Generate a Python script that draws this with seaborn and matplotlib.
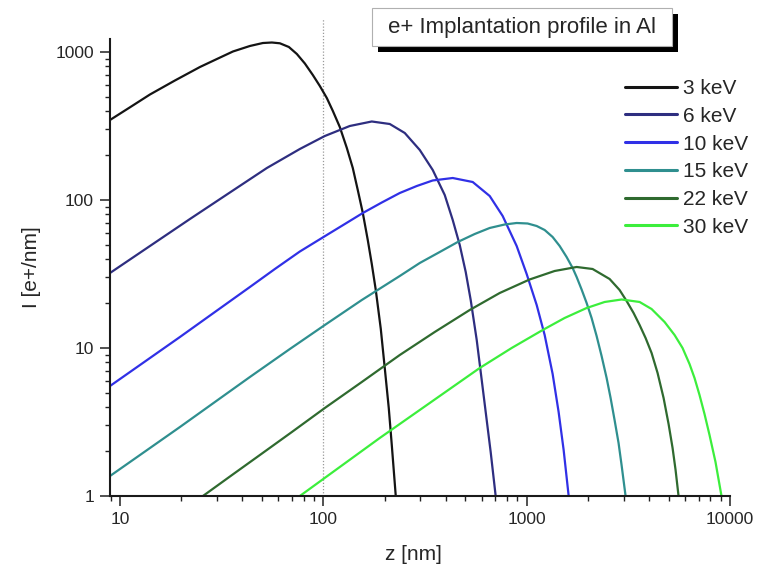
import matplotlib
matplotlib.use("Agg")
import matplotlib.pyplot as plt
import matplotlib.ticker as mticker
from matplotlib.patches import Rectangle
import seaborn as sns
import pandas as pd

# ---- data (depth z in nm, intensity I in e+/nm) ----
energies = ["3 keV", "6 keV", "10 keV", "15 keV", "22 keV", "30 keV"]
colors = ["#141414", "#2e2e80", "#3030e6", "#2f8f8f", "#2f6a2f", "#3cee3c"]

z_3 = [8.93, 11.20, 14.04, 18.63, 24.73, 29.97, 35.93, 43.54, 50.43, 55.84,
       61.13, 67.68, 74.10, 81.12, 88.78, 96.12, 104.0, 111.4, 120.5, 130.5,
       139.6, 147.7, 156.4, 165.4, 173.1, 181.1, 191.7, 200.5, 209.8, 217.1, 227.1]
i_3 = [347.2, 423.1, 516.2, 641.9, 791.8, 896.8, 1007.8, 1098, 1150, 1159,
       1145, 1081, 969.4, 836.2, 699.1, 589.2, 488.9, 399.4, 311.3, 224.6,
       164.5, 116.8, 81.68, 53.67, 36.95, 24.66, 13.44, 7.325, 3.932, 2.211, 1.0]

z_6 = [8.93, 14.04, 22.08, 34.72, 52.77, 76.65, 101.7, 134.9, 173.1, 212.2,
       251.5, 298.1, 345.2, 395.4, 432.9, 468.7, 501.5, 530.6, 568.0, 601.1,
       635.9, 665.3, 704.0]
i_6 = [32.12, 48.89, 74.40, 112.4, 164.5, 221.1, 270.6, 316.2, 339.2, 326.2,
       283.6, 217.7, 159.5, 108.1, 73.25, 49.66, 32.62, 21.10, 11.33, 6.078,
       3.263, 1.983, 1.0]

z_10 = [8.93, 13.27, 19.72, 29.30, 43.54, 57.77, 76.65, 104.0, 127.6, 156.4,
        193.9, 237.7, 288.1, 345.2, 432.9, 542.8, 658.0, 762.1, 892.9, 1000,
        1120, 1226, 1342, 1436, 1520, 1609]
i_10 = [5.536, 8.105, 11.87, 17.51, 25.83, 34.18, 44.87, 58.01, 68.84, 81.68,
        96.19, 111.5, 124.3, 135.5, 140.8, 132.3, 106.4, 77.96, 48.89, 31.62,
        19.53, 12.24, 6.674, 3.695, 2.046, 1.0]

z_15 = [8.93, 13.27, 19.72, 29.30, 43.54, 68.45, 101.7, 154.6, 237.7, 298.1,
        373.7, 458.1, 555.3, 658.0, 779.6, 892.9, 1011, 1120, 1226, 1342,
        1453, 1572, 1683, 1761, 1863, 1972, 2086, 2208, 2336, 2473, 2587,
        2706, 2831, 2929, 3065]
i_15 = [1.365, 1.998, 2.926, 4.317, 6.369, 9.845, 14.30, 21.10, 30.66, 37.53,
        44.53, 52.02, 58.92, 64.70, 68.31, 69.92, 69.38, 66.73, 62.70, 56.23,
        48.89, 41.19, 34.72, 30.18, 24.85, 20.14, 15.95, 12.05, 8.831, 6.271,
        4.594, 3.263, 2.281, 1.620, 1.0]

z_22 = [25.58, 34.72, 48.75, 70.02, 101.7, 154.6, 237.7, 353.2, 524.8, 737.0,
        1034, 1373, 1761, 2110, 2558, 2864, 3101, 3356, 3593, 3845, 4115,
        4404, 4714, 4988, 5219, 5399, 5584]
i_22 = [1.0, 1.354, 1.892, 2.706, 3.932, 5.892, 8.968, 12.83, 18.06, 23.53,
        29.03, 33.14, 35.27, 34.18, 29.26, 24.66, 20.78, 17.24, 14.30, 11.68,
        9.252, 6.778, 4.594, 3.066, 2.110, 1.499, 1.0]

z_30 = [76.65, 120.5, 189.5, 333.7, 587.6, 843.8, 1199, 1537, 1972, 2418,
        2930, 3593, 4115, 4767, 5338, 5843, 6323, 6692, 7081, 7493, 7930,
        8486, 9082]
i_30 = [1.0, 1.570, 2.466, 4.250, 7.325, 10.0, 13.23, 15.95, 18.63, 20.46,
        21.27, 20.46, 18.34, 14.99, 12.24, 10.0, 7.796, 6.271, 4.813, 3.582,
        2.583, 1.697, 1.0]

x_ticks = [10, 100, 1000, 10000]
x_tick_labels = ["10", "100", "1000", "10000"]
y_ticks = [1, 10, 100, 1000]
y_tick_labels = ["1", "10", "100", "1000"]
title_text = "e+ Implantation profile in Al"
x_label = "z [nm]"
y_label = "I [e+/nm]"

frames = []
for lab, zz, ii in zip(energies, [z_3, z_6, z_10, z_15, z_22, z_30],
                       [i_3, i_6, i_10, i_15, i_22, i_30]):
    frames.append(pd.DataFrame({"z": zz, "I": ii, "E": lab}))
df = pd.concat(frames, ignore_index=True)

# ---- figure ----
sns.set_style("ticks")
plt.rcParams["font.family"] = ["Liberation Sans", "DejaVu Sans"]
txt_color = "#262626"

W, H = 767, 570
fig = plt.figure(figsize=(W / 100, H / 100), dpi=100)
ax = fig.add_axes([110 / W, 74 / H, 620 / W, 457 / H])

sns.lineplot(data=df, x="z", y="I", hue="E", hue_order=energies,
             palette=dict(zip(energies, colors)), estimator=None, sort=False,
             linewidth=1.6, legend=False, ax=ax)
for ln in ax.lines:
    ln.set_solid_joinstyle("round")

ax.set_xscale("log")
ax.set_yscale("log")
ax.set_xlim(8.93, 10000)
ax.set_ylim(1, 1224)

ax.xaxis.set_major_locator(mticker.FixedLocator(x_ticks))
ax.xaxis.set_major_formatter(mticker.FixedFormatter(x_tick_labels))
ax.yaxis.set_major_locator(mticker.FixedLocator(y_ticks))
ax.yaxis.set_major_formatter(mticker.FixedFormatter(y_tick_labels))
ax.xaxis.set_minor_locator(mticker.LogLocator(base=10, subs=range(2, 10)))
ax.yaxis.set_minor_locator(mticker.LogLocator(base=10, subs=range(2, 10)))
ax.xaxis.set_minor_formatter(mticker.NullFormatter())
ax.yaxis.set_minor_formatter(mticker.NullFormatter())

ax.tick_params(which="major", length=7.5, width=1.1, color="#222222",
               labelsize=12.5, labelcolor=txt_color, pad=4)
ax.tick_params(which="minor", length=3.8, width=1.0, color="#222222")
sns.despine(ax=ax)
for s in ("left", "bottom"):
    ax.spines[s].set_linewidth(1.5)
    ax.spines[s].set_color("#1a1a1a")

ax.grid(False)
ax.axvline(100, ymin=0, ymax=1.046, color="#9a9a9a", linestyle=(0, (1, 1.5)),
           linewidth=0.9, clip_on=False, zorder=0)

ax.set_xlabel(x_label, fontsize=15, color=txt_color)
ax.set_ylabel(y_label, fontsize=15, color=txt_color)
ax.xaxis.set_label_coords(0.489, -0.108)
ax.yaxis.set_label_coords(-0.112, 0.5)

# legend
leg = ax.legend(handles=ax.lines[:6], labels=energies, frameon=False,
                loc="upper left", bbox_to_anchor=(625 / W, (H - 79) / H),
                bbox_transform=fig.transFigure, fontsize=15, borderpad=0,
                borderaxespad=0, handlelength=2.5, handletextpad=0.3,
                labelspacing=0.42)
for t in leg.get_texts():
    t.set_color(txt_color)
for l in leg.get_lines():
    l.set_linewidth(2.2)

# title box with drop shadow
def frect(x0, y0, x1, y1, **kw):
    return Rectangle((x0 / W, 1 - y1 / H), (x1 - x0) / W, (y1 - y0) / H,
                     transform=fig.transFigure, **kw)

fig.patches.append(frect(378, 14, 678, 52, facecolor="#000000", edgecolor="none"))
fig.patches.append(frect(372, 8, 672, 46, facecolor="white", edgecolor="#b0b0b0",
                         linewidth=0.8))
fig.text(522 / W, 1 - 27 / H, title_text, ha="center", va="center",
         fontsize=16, color=txt_color)

fig.savefig("out.png", dpi=100)
